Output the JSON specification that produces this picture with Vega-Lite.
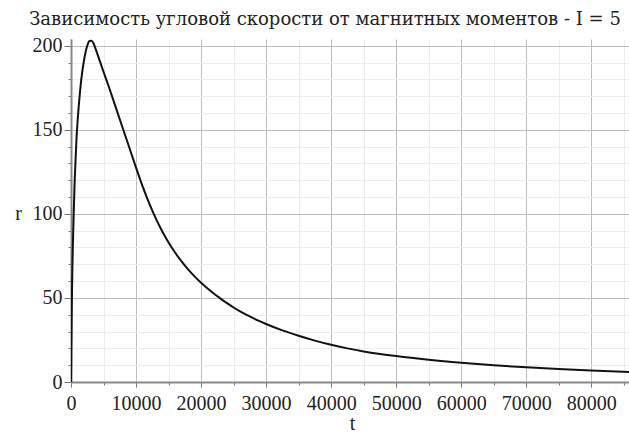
{
  "$schema": "https://vega.github.io/schema/vega-lite/v6.json",
  "width": 558,
  "height": 343,
  "autosize": {"type": "none"},
  "padding": {"left": 71, "top": 39, "right": 0, "bottom": 52},
  "background": "white",
  "title": {
    "text": "Зависимость угловой скорости от магнитных моментов - I = 5",
    "font": "DejaVu Serif",
    "fontSize": 18,
    "fontWeight": "normal",
    "color": "#222222",
    "anchor": "middle",
    "frame": "group",
    "dx": -25,
    "offset": 7
  },
  "data": {
    "values": [
      {"t": 0, "r": 0},
      {"t": 50, "r": 20},
      {"t": 120, "r": 45},
      {"t": 220, "r": 70},
      {"t": 380, "r": 95},
      {"t": 550, "r": 118},
      {"t": 700, "r": 132},
      {"t": 850, "r": 145},
      {"t": 1050, "r": 157},
      {"t": 1300, "r": 169},
      {"t": 1580, "r": 180},
      {"t": 2080, "r": 193},
      {"t": 2500, "r": 200},
      {"t": 2850, "r": 202.8},
      {"t": 3150, "r": 203},
      {"t": 3450, "r": 201.5},
      {"t": 3800, "r": 198},
      {"t": 4200, "r": 193.5},
      {"t": 5000, "r": 184.5},
      {"t": 6000, "r": 173.5},
      {"t": 7000, "r": 162},
      {"t": 8000, "r": 150.5},
      {"t": 9000, "r": 139},
      {"t": 10000, "r": 127.5},
      {"t": 11000, "r": 116.5},
      {"t": 12000, "r": 106.5},
      {"t": 13000, "r": 97.6},
      {"t": 14000, "r": 89.8},
      {"t": 15000, "r": 83},
      {"t": 16000, "r": 77},
      {"t": 17000, "r": 71.7},
      {"t": 18000, "r": 67},
      {"t": 19000, "r": 62.8},
      {"t": 20000, "r": 59},
      {"t": 21000, "r": 55.6},
      {"t": 22000, "r": 52.5},
      {"t": 23000, "r": 49.6},
      {"t": 24000, "r": 46.9},
      {"t": 25000, "r": 44.3},
      {"t": 26000, "r": 42},
      {"t": 27000, "r": 39.9},
      {"t": 28000, "r": 38},
      {"t": 29000, "r": 36.2},
      {"t": 30000, "r": 34.5},
      {"t": 32500, "r": 30.7},
      {"t": 35000, "r": 27.5},
      {"t": 37500, "r": 24.6},
      {"t": 40000, "r": 22.1},
      {"t": 42500, "r": 20},
      {"t": 45000, "r": 18.2},
      {"t": 47500, "r": 16.7},
      {"t": 50000, "r": 15.4},
      {"t": 55000, "r": 13.2},
      {"t": 60000, "r": 11.4},
      {"t": 65000, "r": 9.9},
      {"t": 70000, "r": 8.7},
      {"t": 75000, "r": 7.7},
      {"t": 80000, "r": 6.8},
      {"t": 85800, "r": 6}
    ]
  },
  "mark": {"type": "line", "color": "#111111", "strokeWidth": 2, "clip": true, "interpolate": "monotone"},
  "encoding": {
    "x": {
      "field": "t",
      "type": "quantitative",
      "scale": {"domain": [0, 85800], "nice": false, "zero": false},
      "axis": {
        "title": "t",
        "titleFont": "Liberation Serif",
        "titleFontSize": 20,
        "titleFontWeight": "normal",
        "titleColor": "#222222",
        "titleY": 41,
        "titleX": 281,
        "titleBaseline": "middle",
        "values": [0,5000,10000,15000,20000,25000,30000,35000,40000,45000,50000,55000,60000,65000,70000,75000,80000,85000],
        "format": "d",
        "labelExpr": "datum.value % 10000 === 0 ? datum.label : ''",
        "labelFont": "Liberation Serif",
        "labelFontSize": 20,
        "labelColor": "#222222",
        "labelFlush": false,
        "labelOverlap": false,
        "labelPadding": 6,
        "domainColor": "#888888",
        "domainWidth": 2,
        "tickColor": "#777777",
        "tickSize": {"condition": {"test": "datum.value % 10000 === 0", "value": 5}, "value": 3},
        "grid": true,
        "gridColor": {"condition": {"test": "datum.value % 10000 === 0", "value": "#bdbdbd"}, "value": "#ececec"},
        "gridWidth": 1
      }
    },
    "y": {
      "field": "r",
      "type": "quantitative",
      "scale": {"domain": [0, 204], "nice": false},
      "axis": {
        "title": "r",
        "titleAngle": 0,
        "titleFont": "Liberation Serif",
        "titleFontSize": 20,
        "titleFontWeight": "normal",
        "titleColor": "#222222",
        "titleX": -53,
        "titleY": 174,
        "titleAlign": "center",
        "titleBaseline": "middle",
        "values": [0,10,20,30,40,50,60,70,80,90,100,110,120,130,140,150,160,170,180,190,200],
        "format": "d",
        "labelExpr": "datum.value % 50 === 0 ? datum.label : ''",
        "labelFont": "Liberation Serif",
        "labelFontSize": 20,
        "labelColor": "#222222",
        "labelFlush": false,
        "labelOverlap": false,
        "labelPadding": 2,
        "domainColor": "#888888",
        "domainWidth": 2,
        "tickColor": "#777777",
        "tickSize": {"condition": {"test": "datum.value % 50 === 0", "value": 7}, "value": 3},
        "grid": true,
        "gridColor": {"condition": {"test": "datum.value % 50 === 0", "value": "#bdbdbd"}, "value": "#ececec"},
        "gridWidth": 1
      }
    }
  },
  "config": {"view": {"stroke": null}}
}
